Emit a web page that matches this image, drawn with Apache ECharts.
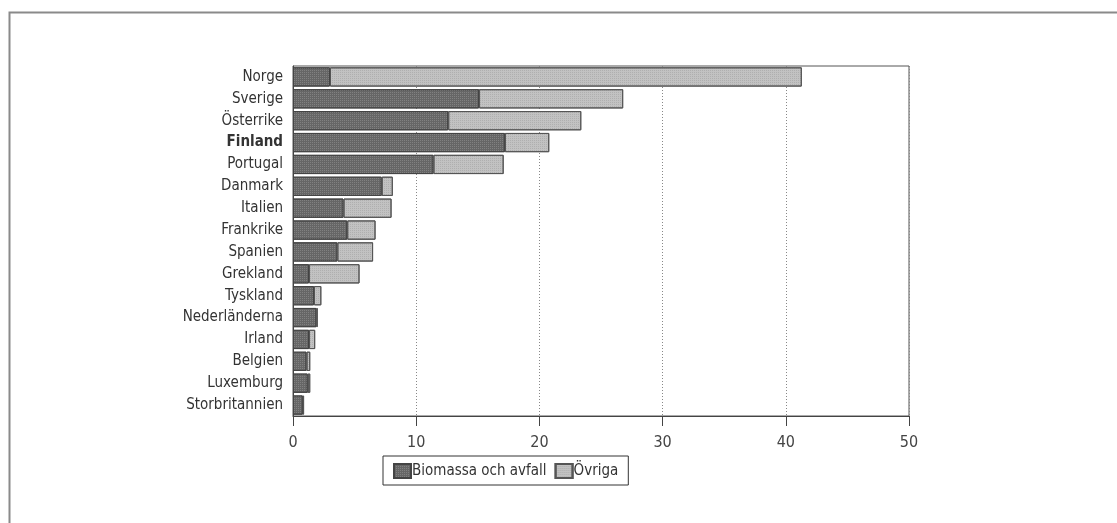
<!DOCTYPE html>
<html>
<head>
<meta charset="utf-8">
<script src="https://cdn.jsdelivr.net/npm/echarts@6/dist/echarts.min.js"></script>
<style>
html,body{margin:0;padding:0;background:#fff;}
#c{width:1117px;height:523px;}
</style>
</head>
<body>
<div id="c"></div>
<script>
const categories = ["Norge","Sverige","Österrike","Finland","Portugal","Danmark","Italien","Frankrike","Spanien","Grekland","Tyskland","Nederländerna","Irland","Belgien","Luxemburg","Storbritannien"];
const biomassa = [3.0, 15.1, 12.6, 17.2, 11.4, 7.2, 4.1, 4.4, 3.6, 1.3, 1.7, 1.9, 1.3, 1.1, 1.2, 0.8];
const ovriga   = [38.3, 11.7, 10.8, 3.6, 5.7, 0.9, 3.9, 2.3, 2.9, 4.1, 0.6, 0.1, 0.5, 0.3, 0.2, 0.1];
const xTicks = [0, 10, 20, 30, 40, 50];
const seriesNames = ["Biomassa och avfall", "Övriga"];

const FONT = "'DejaVu Sans Condensed','Liberation Sans Narrow',sans-serif";
const chart = echarts.init(document.getElementById('c'), null, {renderer:'canvas'});

const decalDark = {symbol:'rect', symbolSize:1, dashArrayX:[1,1], dashArrayY:[1,1], color:'rgba(255,255,255,0.18)'};
const decalLight = {symbol:'rect', symbolSize:1, dashArrayX:[1,1], dashArrayY:[1,1], color:'rgba(120,120,120,0.25)'};

chart.setOption({
  animation:false,
  backgroundColor:'#fff',
  graphic:[{
    type:'rect', left:7, top:10, shape:{width:1200, height:600},
    style:{fill:'none', stroke:'#8a8a8a', lineWidth:2}, silent:true
  }],
  grid:{left:293, right:208, top:66, bottom:107, show:true, borderColor:'#555', borderWidth:1, backgroundColor:'transparent'},
  legend:{
    data:seriesNames, left:383, top:456,
    borderColor:'#333', borderWidth:1, padding:[7,10,6,10], itemGap:8,
    itemWidth:17, itemHeight:14, icon:'rect',
    textStyle:{fontFamily:FONT, fontSize:15, color:'#333', padding:[0,0,0,-4]}
  },
  xAxis:{
    type:'value', min:0, max:50, interval:10,
    axisLine:{show:true, lineStyle:{color:'#444', width:1}},
    axisTick:{show:true, length:10, lineStyle:{color:'#444'}},
    axisLabel:{fontFamily:FONT, fontSize:16, color:'#444', margin:19,
      formatter:v => xTicks.includes(v) ? String(v) : ''},
    splitLine:{show:true, lineStyle:{color:'#888', type:[1,2], width:1}}
  },
  yAxis:{
    type:'category', data:categories, inverse:true,
    axisLine:{show:true, lineStyle:{color:'#444'}},
    axisTick:{show:false},
    axisLabel:{interval:0, fontFamily:FONT, fontSize:15, color:'#333', margin:10,
      formatter:v => v === 'Finland' ? '{b|' + v + '}' : v,
      rich:{b:{fontFamily:FONT, fontSize:15, fontWeight:'bold', color:'#333'}}}
  },
  series:[
    {name:seriesNames[0], type:'bar', stack:'t', data:biomassa, barCategoryGap:'12%',
     itemStyle:{color:'#666', borderColor:'#444', borderWidth:1, decal:decalDark}},
    {name:seriesNames[1], type:'bar', stack:'t', data:ovriga, barCategoryGap:'12%',
     itemStyle:{color:'#c2c2c2', borderColor:'#555', borderWidth:1, decal:decalLight}}
  ]
});
</script>
</body>
</html>
